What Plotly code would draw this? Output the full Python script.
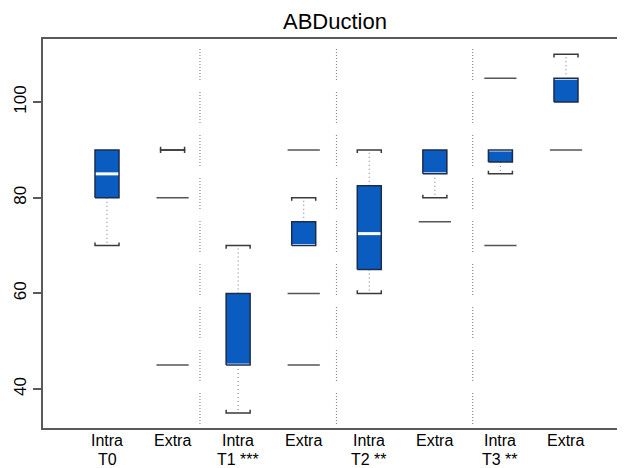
import plotly.graph_objects as go

# ---- data ----
positions = [1, 2, 3, 4, 5, 6, 7, 8]
label_line1 = ["Intra", "Extra", "Intra", "Extra", "Intra", "Extra", "Intra", "Extra"]
label_line2 = ["T0", "", "T1 ***", "", "T2 **", "", "T3 **", ""]
q1 = [80, 90, 45, 70, 65, 85, 87.5, 100]
median = [85, 90, 45, 70, 72.5, 85, 90, 105]
q3 = [90, 90, 60, 75, 82.5, 90, 90, 105]
whisk_lo = [70, 90, 35, 70, 60, 80, 85, 100]
whisk_hi = [90, 90, 70, 80, 90, 90, 90, 110]
outliers = [[], [80, 45], [], [90, 60, 45], [], [75], [105, 70], [90]]
separators = [2.418, 4.50, 6.577]
y_ticks = [40, 60, 80, 100]
title_text = "ABDuction"

# ---- style ----
BOX_W = 0.366
FILL = "#0A5CC0"
EDGE = "#1C2C4C"
AXIS = "#5a5a5a"
FONT = "Liberation Sans, Arial, sans-serif"
OFF = 8                      # page body margin
FIG_W, FIG_H = 625 - OFF, 468 - OFF
M_L, M_T, M_B = 43 - OFF, 39 - OFF, 40
PLOT_H = FIG_H - M_T - M_B
hw = BOX_W / 2

fig = go.Figure()

# box fills
fig.add_trace(go.Bar(
    x=positions, y=[b - a for a, b in zip(q1, q3)], base=q1, width=BOX_W,
    marker=dict(color=FILL, line=dict(width=0)),
    hoverinfo="skip", showlegend=False))

# whiskers (dotted)
wx, wy = [], []
for p, a, b, lo, hi in zip(positions, q1, q3, whisk_lo, whisk_hi):
    if hi > b:
        wx += [p, p, None]; wy += [b, hi, None]
    if lo < a:
        wx += [p, p, None]; wy += [a, lo, None]
fig.add_trace(go.Scatter(x=wx, y=wy, mode="lines",
                         line=dict(color="#8a8a8a", width=1.2, dash="1px,3px"),
                         hoverinfo="skip", showlegend=False))

# medians (white)
mx = [p for p, a, b in zip(positions, q1, q3) if b > a]
my = [m for m, a, b in zip(median, q1, q3) if b > a]
fig.add_trace(go.Scatter(x=mx, y=my, mode="markers",
                         marker=dict(symbol="line-ew", size=22,
                                     line=dict(color="white", width=3)),
                         hoverinfo="skip", showlegend=False))

# box outlines (on top of medians)
bx, by = [], []
for p, a, b in zip(positions, q1, q3):
    if b > a:
        bx += [p - hw, p + hw, p + hw, p - hw, p - hw, None]
        by += [a, a, b, b, a, None]
fig.add_trace(go.Scatter(x=bx, y=by, mode="lines",
                         line=dict(color=EDGE, width=1.5),
                         hoverinfo="skip", showlegend=False))

# caps (brackets)
tick = 0.65
cx, cy = [], []
for p, a, b, lo, hi in zip(positions, q1, q3, whisk_lo, whisk_hi):
    if hi > b or b == a:
        cx += [p - hw, p - hw, p + hw, p + hw, None]
        cy += [hi - tick, hi, hi, hi - tick, None]
    if lo < a or b == a:
        cx += [p - hw, p - hw, p + hw, p + hw, None]
        cy += [lo + tick, lo, lo, lo + tick, None]
fig.add_trace(go.Scatter(x=cx, y=cy, mode="lines",
                         line=dict(color="#3a3a3a", width=1.5),
                         hoverinfo="skip", showlegend=False))

# outliers as dashes
ox, oy = [], []
for p, outs in zip(positions, outliers):
    for v in outs:
        ox.append(p); oy.append(v)
fig.add_trace(go.Scatter(x=ox, y=oy, mode="markers",
                         marker=dict(symbol="line-ew", size=23,
                                     line=dict(color="#555555", width=1.5)),
                         hoverinfo="skip", showlegend=False))

# separators
sep_dash = ",".join(["1px,2px"] * 10) + ",1px,12px"
for s in separators:
    fig.add_shape(type="line", xref="x", yref="paper", x0=s, x1=s, y0=0.01, y1=0.99,
                  line=dict(color="#8a8a8a", width=1.2, dash=sep_dash))


def page_y_to_paper(py):
    return 1 - (py - OFF - M_T) / PLOT_H


# x labels (two lines, tight spacing)
for p, t in zip(positions, label_line1):
    fig.add_annotation(x=p, xref="x", y=page_y_to_paper(431), yref="paper", yanchor="top",
                       text=t, showarrow=False, borderpad=0,
                       font=dict(family=FONT, size=16, color="black"))
for p, t in zip(positions, label_line2):
    if t:
        fig.add_annotation(x=p, xref="x", y=page_y_to_paper(450), yref="paper",
                           yanchor="top", text=t, showarrow=False, borderpad=0,
                           font=dict(family=FONT, size=16, color="black"))

fig.update_layout(
    width=FIG_W, height=FIG_H,
    margin=dict(l=M_L, r=0, t=M_T, b=M_B),
    plot_bgcolor="white", paper_bgcolor="white",
    title=dict(text=title_text, x=(335 - OFF) / FIG_W, xanchor="center",
               y=1 - (21 - OFF) / FIG_H, yanchor="middle", yref="container",
               font=dict(family=FONT, size=22, color="black")),
    xaxis=dict(range=[0.024, 8.90], showticklabels=False,
               ticks="", showgrid=False, zeroline=False, automargin=False,
               showline=True, linecolor=AXIS, linewidth=2, mirror=True),
    yaxis=dict(range=[31.85, 113.2], tickvals=y_ticks, ticks="outside", ticklen=8,
               tickcolor=AXIS, tickwidth=1.5, tickangle=-90, automargin=False,
               showgrid=False, zeroline=False,
               showline=True, linecolor=AXIS, linewidth=2, mirror=False,
               tickfont=dict(family=FONT, size=17, color="black")),
    bargap=0,
)

fig.write_html("out.html")
